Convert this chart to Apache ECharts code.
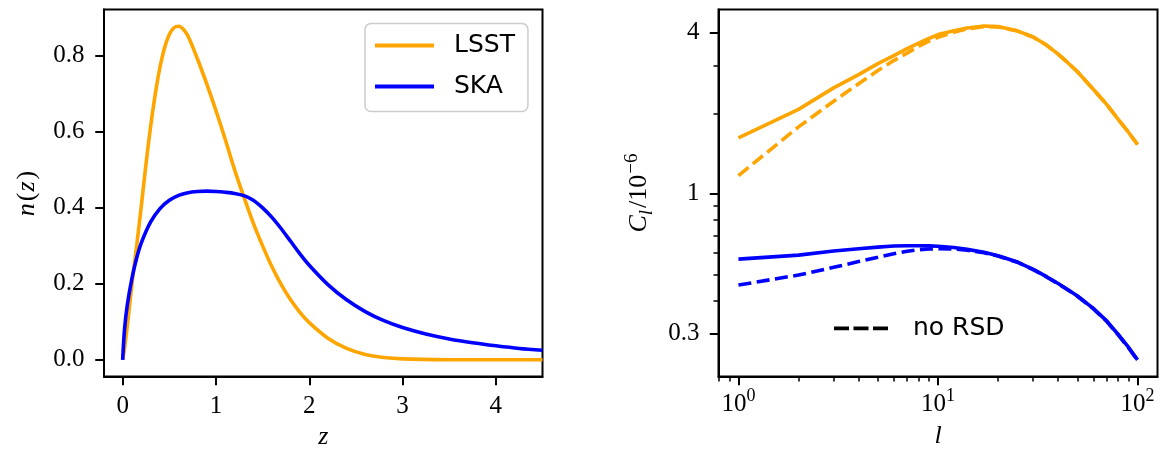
<!DOCTYPE html>
<html><head><meta charset="utf-8">
<script src="https://cdn.jsdelivr.net/npm/echarts@6/dist/echarts.min.js"></script>
<style>html,body{margin:0;padding:0;background:#fff}#c{width:1164px;height:450px}</style>
</head><body><div id="c"></div>
<script>
// ---- left panel: n(z) ----
const zLSST = [0, 0.02, 0.05, 0.1, 0.15, 0.2, 0.25, 0.3, 0.35, 0.4, 0.45, 0.5, 0.55, 0.6, 0.65, 0.7, 0.8, 0.9, 1.0, 1.1, 1.2, 1.3, 1.4, 1.5, 1.6, 1.7, 1.8, 1.9, 2.0, 2.2, 2.4, 2.6, 2.8, 3.0, 3.5, 4.0, 4.5];
const nLSST = [0, 0.03, 0.09, 0.2, 0.3, 0.405, 0.515, 0.615, 0.70, 0.77, 0.822, 0.856, 0.874, 0.878, 0.87, 0.852, 0.793, 0.727, 0.656, 0.58, 0.50, 0.428, 0.36, 0.30, 0.245, 0.198, 0.158, 0.125, 0.098, 0.057, 0.03, 0.014, 0.006, 0.0025, 0.0003, 0, 0];
const zSKA = [0, 0.02, 0.05, 0.1, 0.15, 0.2, 0.3, 0.4, 0.5, 0.6, 0.7, 0.8, 0.9, 1.0, 1.1, 1.2, 1.3, 1.4, 1.5, 1.6, 1.7, 1.8, 1.9, 2.0, 2.2, 2.4, 2.6, 2.8, 3.0, 3.25, 3.5, 3.75, 4.0, 4.25, 4.5];
const nSKA = [0, 0.08, 0.145, 0.215, 0.268, 0.308, 0.363, 0.398, 0.42, 0.433, 0.44, 0.443, 0.444, 0.443, 0.441, 0.438, 0.432, 0.42, 0.40, 0.375, 0.345, 0.312, 0.279, 0.249, 0.198, 0.158, 0.127, 0.103, 0.085, 0.068, 0.055, 0.045, 0.037, 0.030, 0.025];
const nzTicksX = [0, 1, 2, 3, 4];
const nzTickLabelsX = ['0', '1', '2', '3', '4'];
const nzTicksY = [0, 0.2, 0.4, 0.6, 0.8];
const nzTickLabelsY = ['0.0', '0.2', '0.4', '0.6', '0.8'];

// ---- right panel: C_l ----
const ells = [1, 2, 3, 4, 5, 6, 7, 8, 9, 10, 12, 14, 17, 20, 25, 30, 35, 40, 45, 50, 60, 70, 80, 90, 100];
const clLSST = [1.62, 2.07, 2.49, 2.79, 3.07, 3.29, 3.49, 3.66, 3.81, 3.94, 4.07, 4.17, 4.24, 4.22, 4.07, 3.86, 3.6, 3.33, 3.08, 2.86, 2.46, 2.16, 1.9, 1.7, 1.53];
const clLSSTnoRSD = [1.17, 1.78, 2.22, 2.58, 2.89, 3.15, 3.36, 3.56, 3.72, 3.85, 4.02, 4.14, 4.22, 4.21, 4.06, 3.855, 3.595, 3.33, 3.08, 2.86, 2.46, 2.16, 1.9, 1.7, 1.53];
const clSKA = [0.570, 0.590, 0.611, 0.623, 0.632, 0.638, 0.640, 0.640, 0.639, 0.637, 0.630, 0.620, 0.605, 0.587, 0.556, 0.522, 0.490, 0.462, 0.437, 0.415, 0.373, 0.335, 0.298, 0.267, 0.2395];
const clSKAnoRSD = [0.456, 0.497, 0.531, 0.558, 0.579, 0.597, 0.610, 0.618, 0.622, 0.624, 0.622, 0.615, 0.602, 0.585, 0.555, 0.521, 0.489, 0.461, 0.436, 0.414, 0.372, 0.334, 0.297, 0.266, 0.239];
const clTicksX = [1, 10, 100];
const clTickExpX = ['0', '1', '2'];
const clMinorX = [0.8, 0.9, 2, 3, 4, 5, 6, 7, 8, 9, 20, 30, 40, 50, 60, 70, 80, 90];
const clTicksY = [0.3, 1, 4];
const clTickLabelsY = ['0.3', '1', '4'];
const clMinorY = [0.4, 0.5, 0.6, 0.7, 0.8, 0.9, 2, 3];

const SERIF = 'Liberation Serif';
const SANS = 'DejaVu Sans';
const ORANGE = '#FFA500', BLUE = '#0000FF';
const LW = 3.6, DASH = [13, 5.5];
const DASH_ICON = 'path://M0,0h15v3.8h-15z M19.5,0h15v3.8h-15z M39,0h15v3.8h-15z';

const pairs = (xs, ys) => xs.map((x, i) => [x, ys[i]]);
const lookup = (ticks, labels) => v => {
  const i = ticks.findIndex(t => Math.abs(t - v) <= 1e-6 * Math.max(1, Math.abs(t)));
  return i >= 0 ? labels[i] : '';
};

const tickLabelStyle = {color: '#000', fontFamily: SERIF, fontSize: 25};
const lineAxisLine = {show: true, onZero: false, lineStyle: {color: '#000', width: 2}};
const majorTick = (vals) => ({show: true, customValues: vals, length: 8.75, lineStyle: {color: '#000', width: 2}});
const minorTickCfg = (vals) => ({show: true, customValues: vals, length: 5, lineStyle: {color: '#000', width: 1.5}});
const nameStyle = {
  color: '#000', fontFamily: SERIF, fontSize: 25,
  rich: {
    i: {fontFamily: SERIF, fontStyle: 'italic', fontSize: 26, color: '#000', lineHeight: 34},
    r: {fontFamily: SERIF, fontSize: 26, color: '#000', lineHeight: 34, padding: [0, 1, 0, 2]},
    sub: {fontFamily: SERIF, fontStyle: 'italic', fontSize: 19, color: '#000', verticalAlign: 'bottom', lineHeight: 34},
    sup: {fontFamily: SERIF, fontSize: 19, color: '#000', verticalAlign: 'top', lineHeight: 34}
  }
};

const chart = echarts.init(document.getElementById('c'), null, {renderer: 'canvas'});
chart.setOption({
  animation: false,
  backgroundColor: '#fff',
  grid: [
    {left: 104, top: 9.5, width: 438.5, height: 367, show: true, borderColor: '#000', borderWidth: 2, containLabel: false, outerBoundsMode: 'none'},
    {left: 718.5, top: 9.5, width: 439, height: 367, show: true, borderColor: '#000', borderWidth: 2, containLabel: false, outerBoundsMode: 'none'}
  ],
  xAxis: [
    {gridIndex: 0, type: 'value', min: -0.2, max: 4.5, position: 'bottom',
     axisLine: lineAxisLine, splitLine: {show: false},
     axisTick: majorTick(nzTicksX),
     axisLabel: Object.assign({customValues: nzTicksX, margin: 17.5, formatter: lookup(nzTicksX, nzTickLabelsX)}, tickLabelStyle),
     name: '{i|z}', nameLocation: 'middle', nameGap: 43, nameTextStyle: nameStyle},
    {gridIndex: 1, type: 'log', logBase: 10, min: Math.pow(10, -0.1), max: Math.pow(10, 2.1), position: 'bottom',
     axisLine: lineAxisLine, splitLine: {show: false}, minorTick: {show: false},
     axisTick: majorTick(clTicksX),
     axisLabel: {customValues: clTicksX, margin: 11, color: '#000', fontFamily: SERIF, fontSize: 25,
       formatter: v => '{b|10}{s|' + lookup(clTicksX, clTickExpX)(v) + '}',
       rich: {b: {fontFamily: SERIF, fontSize: 25, color: '#000', lineHeight: 34},
              s: {fontFamily: SERIF, fontSize: 18, color: '#000', verticalAlign: 'top', lineHeight: 34}}},
     name: '{i|l}', nameLocation: 'middle', nameGap: 43, nameTextStyle: nameStyle},
    {gridIndex: 1, type: 'log', logBase: 10, min: Math.pow(10, -0.1), max: Math.pow(10, 2.1), position: 'bottom',
     axisLine: {show: false, onZero: false}, splitLine: {show: false}, minorTick: {show: false},
     axisTick: minorTickCfg(clMinorX), axisLabel: {show: false}}
  ],
  yAxis: [
    {gridIndex: 0, type: 'value', min: -0.0439, max: 0.922, position: 'left',
     axisLine: lineAxisLine, splitLine: {show: false},
     axisTick: majorTick(nzTicksY),
     axisLabel: Object.assign({customValues: nzTicksY, margin: 19.5, formatter: lookup(nzTicksY, nzTickLabelsY)}, tickLabelStyle),
     name: '{i|n}{r|(}{i|z}{r|)}', nameLocation: 'middle', nameGap: 60, nameTextStyle: nameStyle},
    {gridIndex: 1, type: 'log', logBase: 10, min: 0.2075, max: 4.89, position: 'left',
     axisLine: lineAxisLine, splitLine: {show: false}, minorTick: {show: false},
     axisTick: majorTick(clTicksY),
     axisLabel: Object.assign({customValues: clTicksY, margin: 19, formatter: lookup(clTicksY, clTickLabelsY)}, tickLabelStyle),
     name: '{i|C}{sub|l}{r|/10}{sup|−6}', nameLocation: 'middle', nameGap: 62, nameTextStyle: nameStyle},
    {gridIndex: 1, type: 'log', logBase: 10, min: 0.2075, max: 4.89, position: 'left',
     axisLine: {show: false, onZero: false}, splitLine: {show: false}, minorTick: {show: false},
     axisTick: minorTickCfg(clMinorY), axisLabel: {show: false}}
  ],
  legend: [
    {data: ['LSST', 'SKA'], orient: 'vertical', left: 365, top: 23.5, icon: 'rect',
     padding: [9, 13, 12, 10], itemWidth: 59, itemHeight: 3.8, itemGap: 15,
     backgroundColor: '#fff', borderColor: '#cccccc', borderWidth: 1.5, borderRadius: 6,
     selectedMode: false,
     textStyle: {fontFamily: SANS, fontSize: 25, color: '#000', lineHeight: 26, padding: [0, 0, 0, 15]}},
    {data: ['no RSD'], orient: 'vertical', left: 834, top: 315.3, padding: 0, icon: DASH_ICON,
     itemWidth: 54, itemHeight: 3.8, symbolKeepAspect: false, selectedMode: false,
     textStyle: {fontFamily: SANS, fontSize: 25, color: '#000', lineHeight: 26, padding: [0, 0, 0, 20]}}
  ],
  series: [
    {type: 'line', name: 'LSST', xAxisIndex: 0, yAxisIndex: 0, data: pairs(zLSST, nLSST),
     symbol: 'none', smooth: 0.3, color: ORANGE, lineStyle: {color: ORANGE, width: LW}},
    {type: 'line', name: 'SKA', xAxisIndex: 0, yAxisIndex: 0, data: pairs(zSKA, nSKA),
     symbol: 'none', smooth: 0.3, color: BLUE, lineStyle: {color: BLUE, width: LW}},
    {type: 'line', name: 'LSST C_l', xAxisIndex: 1, yAxisIndex: 1, data: pairs(ells, clLSST),
     symbol: 'none', color: ORANGE, lineStyle: {color: ORANGE, width: LW}},
    {type: 'line', name: 'LSST C_l no RSD', xAxisIndex: 1, yAxisIndex: 1, data: pairs(ells, clLSSTnoRSD),
     symbol: 'none', color: ORANGE, lineStyle: {color: ORANGE, width: LW, type: DASH}},
    {type: 'line', name: 'SKA C_l', xAxisIndex: 1, yAxisIndex: 1, data: pairs(ells, clSKA),
     symbol: 'none', color: BLUE, lineStyle: {color: BLUE, width: LW}},
    {type: 'line', name: 'SKA C_l no RSD', xAxisIndex: 1, yAxisIndex: 1, data: pairs(ells, clSKAnoRSD),
     symbol: 'none', color: BLUE, lineStyle: {color: BLUE, width: LW, type: DASH}},
    {type: 'line', name: 'no RSD', xAxisIndex: 1, yAxisIndex: 1, data: [],
     symbol: 'none', color: '#000', lineStyle: {color: '#000', width: LW, type: DASH}}
  ]
});
</script>
</body></html>
